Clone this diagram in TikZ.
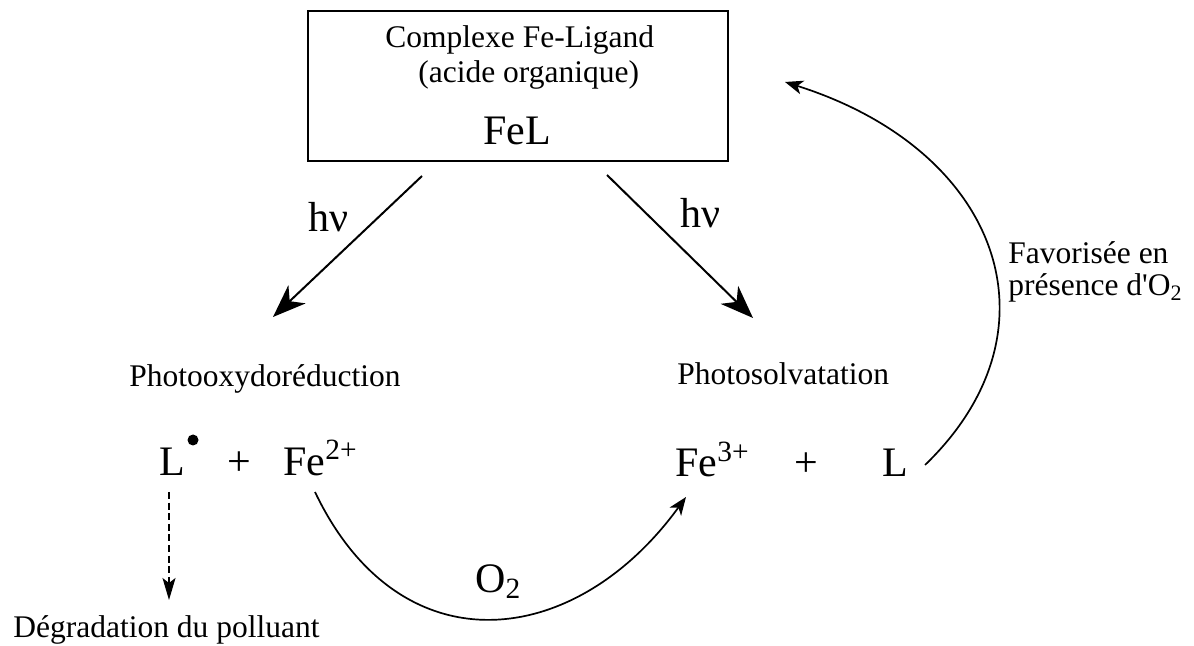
\documentclass[tikz,border=0pt]{standalone}
\usepackage{fontspec}
\setmainfont{Liberation Serif}
\usetikzlibrary{arrows.meta}

\begin{document}
\begin{tikzpicture}[x=0.5pt, y=-0.5pt,
    box/.style={draw, line width=1pt, minimum width=210pt, minimum height=75pt},
    txt/.style={font=\fontsize{15.75}{19}\selectfont, inner sep=0pt, anchor=base west},
    big/.style={font=\fontsize{21}{25}\selectfont, inner sep=0pt, anchor=base west},
    arr/.style={-{Stealth[length=16.5pt, width=12.5pt, inset=5pt]}, line width=1pt},
    arc/.style={-{Stealth[length=9pt, width=7pt, inset=2.5pt]}, line width=0.85pt},
    pointille/.style={-{Stealth[length=11pt, width=6.5pt, inset=2.5pt]}, line width=0.75pt, dash pattern=on 3.5pt off 1.8pt}
]
\useasboundingbox (0,0) rectangle (1194,646);

% complexe
\node[box] (fel) at (518,86) {};
\node[txt] (titre) at (385,48) {Complexe Fe-Ligand};
\node[txt] (acide) at (418,83) {(acide organique)};
\node[big] (fl) at (483,145) {FeL};

% les deux voies
\node[big] (hv1) at (308,232) {hν};
\node[big] (hv2) at (680,228) {hν};
\node[txt] (redox) at (129,387) {Photooxydoréduction};
\node[txt] (solv) at (677,385) {Photosolvatation};

% produits
\node[big] (lrad) at (159,475) {L};
\fill (193,440) circle (5.5);
\node[big, anchor=base] (plus1) at (239,475) {+};
\node[big] (fe2) at (283,475) {Fe\textsuperscript{2+}};
\node[big] (fe3) at (675,477) {Fe\textsuperscript{3+}};
\node[big, anchor=base] (plus2) at (806,477) {+};
\node[big] (lig) at (882,477) {L};
\node[big] (o2) at (475,592) {O\textsubscript{2}};
\node[txt] (degr) at (13,637) {Dégradation du polluant};
\node[txt] (fav1) at (1008,264) {Favorisée en};
\node[txt] (fav2) at (1008,296) {présence d\textquotesingle O\textsubscript{2}};

\coordinate (g0) at (422,176);
\coordinate (g1) at (273,317);
\coordinate (d0) at (607,175);
\coordinate (d1) at (753,318);
\coordinate (p0) at (169,492);
\coordinate (p1) at (169,600);
\coordinate (f0) at (315,492);
\coordinate (f1) at (686,497);
\coordinate (l0) at (925,465);
\coordinate (l1) at (785,82);

\draw[arr] (g0) -- (g1);
\draw[arr] (d0) -- (d1);
\draw[pointille] (p0) -- (p1);
\draw[arc] (f0) .. controls (400,670) and (575,650) .. (f1);
\draw[arc] (l0) .. controls (1065,330) and (1000,150) .. (l1);
\end{tikzpicture}
\end{document}
